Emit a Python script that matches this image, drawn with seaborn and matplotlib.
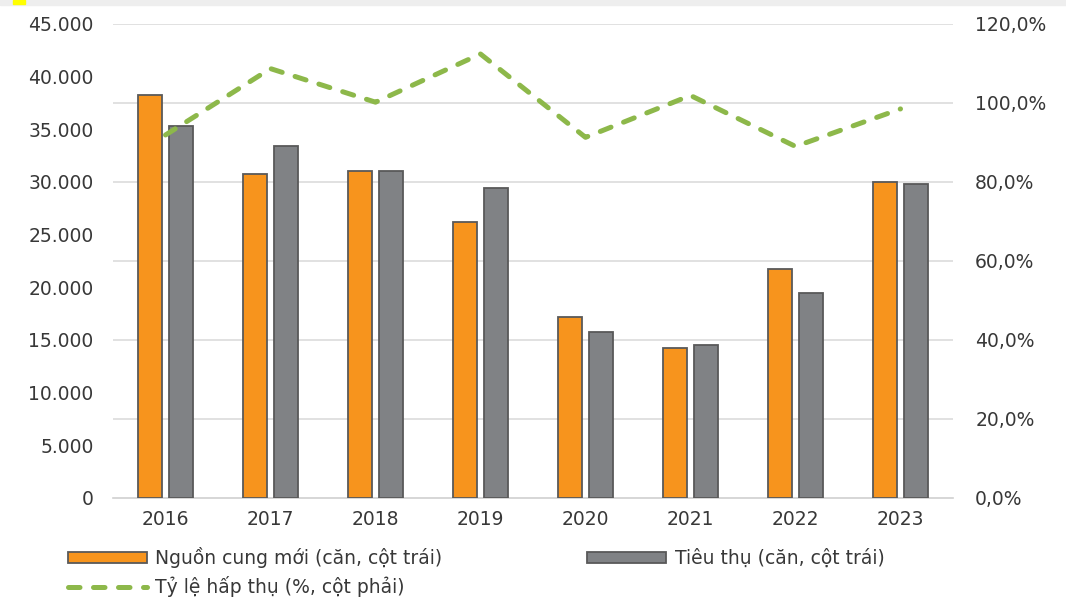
import numpy as np
import pandas as pd
import seaborn as sns
import matplotlib.pyplot as plt
from matplotlib.ticker import MultipleLocator, FuncFormatter, FixedLocator
from matplotlib.patches import Rectangle

years = ["2016", "2017", "2018", "2019", "2020", "2021", "2022", "2023"]
supply = [38300, 30800, 31000, 26200, 17200, 14250, 21750, 30000]       # Nguồn cung mới
consumed = [35300, 33400, 31000, 29400, 15750, 14550, 19450, 29800]     # Tiêu thụ
absorb = [91.9, 108.7, 100.2, 112.4, 91.3, 101.9, 89.0, 98.5]           # Tỷ lệ hấp thụ (%)

lbl_supply = "Nguồn cung mới (căn, cột trái)"
lbl_cons = "Tiêu thụ (căn, cột trái)"
lbl_rate = "Tỷ lệ hấp thụ (%, cột phải)"

df = pd.DataFrame({
    "year": years * 2,
    "value": supply + consumed,
    "series": [lbl_supply] * len(years) + [lbl_cons] * len(years),
})

sns.set_style("white")
plt.rcParams["font.family"] = ["DejaVu Sans"]
txt = "#383838"
fs = 13.5

fig = plt.figure(figsize=(10.66, 6.07), dpi=100)
ax = fig.add_axes([0.106, 0.1796, 0.788, 0.7809])

# grid every 7.500 on the left axis = every 20% on the right axis
for g in np.arange(7500, 45001, 7500):
    ax.axhline(g, color="#d9d9d9", linewidth=1.1, zorder=0)

sns.barplot(data=df, x="year", y="value", hue="series", ax=ax,
            palette={lbl_supply: "#F7941D", lbl_cons: "#808285"},
            width=0.6, gap=0.23, edgecolor="#595959", linewidth=1.3,
            saturation=1, zorder=3)
ax.get_legend().remove()

ax.set_ylim(0, 45000)
ax.set_xlim(-0.5, len(years) - 0.5)
ax.yaxis.set_major_locator(MultipleLocator(5000))
ax.yaxis.set_major_formatter(FuncFormatter(lambda v, p: f"{int(v):,}".replace(",", ".")))
ax.grid(False)
ax.xaxis.set_minor_locator(FixedLocator(np.arange(-0.5, len(years), 1)))
ax.tick_params(axis="x", which="minor", length=4, width=1, color="#d0d0d0", direction="out")
ax.tick_params(axis="x", which="major", length=0, pad=9, labelsize=fs, labelcolor=txt)
ax.tick_params(axis="y", which="both", length=0, pad=14, labelsize=fs, labelcolor=txt)
ax.set_xlabel("")
ax.set_ylabel("")
for s in ["top", "right", "left"]:
    ax.spines[s].set_visible(False)
ax.spines["bottom"].set_color("#d0d0d0")
ax.spines["bottom"].set_linewidth(1.2)

ax2 = ax.twinx()
sns.lineplot(x=np.arange(len(years)), y=absorb, ax=ax2, color="#8DB84A",
             linewidth=3.6, dashes=False, label=lbl_rate, zorder=5)
rate_line = ax2.lines[0]
rate_line.set_dashes([2.3, 2.7])
rate_line.set_dash_capstyle("round")
ax2.get_legend().remove()
ax2.set_ylim(0, 120)
ax2.yaxis.set_major_locator(MultipleLocator(20))
ax2.yaxis.set_major_formatter(FuncFormatter(lambda v, p: f"{v:.1f}%".replace(".", ",")))
ax2.tick_params(axis="y", length=0, pad=16, labelsize=fs, labelcolor=txt)
ax2.set_ylabel("")
for s in ["top", "right", "left", "bottom"]:
    ax2.spines[s].set_visible(False)

h1, l1 = ax.get_legend_handles_labels()
h2, l2 = ax2.get_legend_handles_labels()
leg_kw = dict(frameon=False, fontsize=fs, labelcolor=txt, handlelength=4.2,
              handleheight=0.5, handletextpad=0.45, labelspacing=0.42,
              borderaxespad=0, borderpad=0, loc="center left")
fig.legend([h1[0], h2[0]], [l1[0], l2[0]],
           bbox_to_anchor=(0.064, 0.058), **leg_kw)
fig.legend([h1[1]], [l1[1]], bbox_to_anchor=(0.551, 0.080), **leg_kw)

# strip at top of the picture
fig.patches.append(Rectangle((0, 0.991), 1, 0.009, transform=fig.transFigure,
                             color="#eeeeee", zorder=0))
fig.patches.append(Rectangle((0.012, 0.993), 0.011, 0.007, transform=fig.transFigure,
                             color="#ffff00", zorder=1))

fig.savefig("out.png", dpi=100)
